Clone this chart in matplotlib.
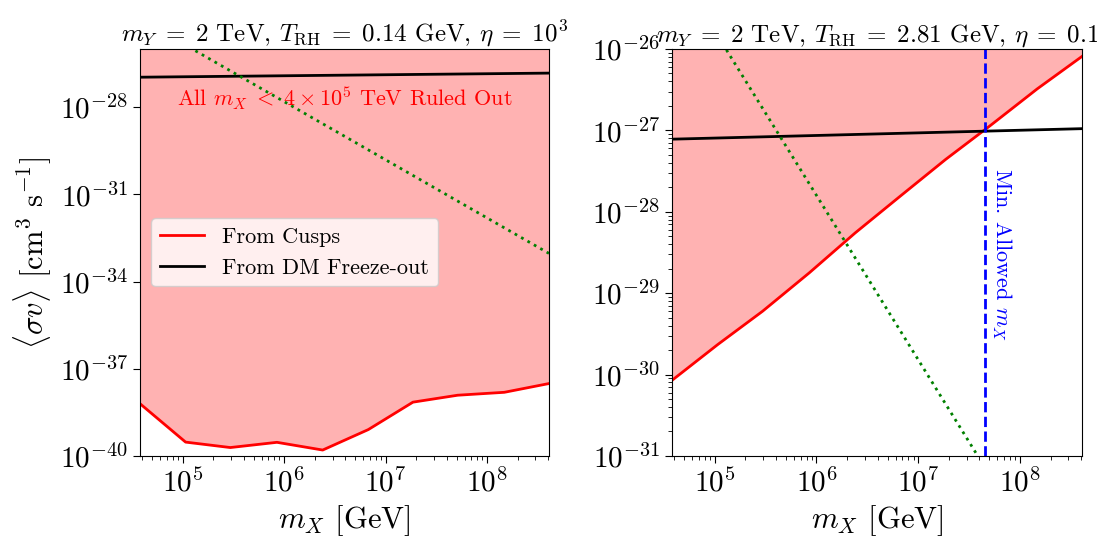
import numpy as np
import matplotlib
matplotlib.use('Agg')
import matplotlib.pyplot as plt
from matplotlib.ticker import LogLocator, NullLocator, NullFormatter

plt.rcParams['font.family'] = 'serif'
plt.rcParams['font.serif'] = ['cmr10']
plt.rcParams['mathtext.fontset'] = 'cm'
plt.rcParams['axes.formatter.use_mathtext'] = True
plt.rcParams['axes.unicode_minus'] = False

# mass grid of the cusp curves [GeV]
mx_grid = [3.8e4, 1.07e5, 2.95e5, 8.5e5, 2.4e6, 6.76e6, 1.86e7, 5.13e7, 1.48e8, 4.07e8]

# left panel: eta = 1e3, T_RH = 0.14 GeV
cusp_left = [6.3e-39, 3.0e-40, 1.95e-40, 2.95e-40, 1.6e-40, 8.1e-40, 7.1e-39, 1.23e-38, 1.55e-38, 3.1e-38]
freeze_x = [3.8e4, 4.07e8]
freeze_left = [1.07e-27, 1.48e-27]
green_left_x = [1.0e5, 4.07e8]
green_left_y = [1.55e-26, 9.3e-34]

# right panel: eta = 0.1, T_RH = 2.81 GeV
cusp_right = [8.5e-31, 2.34e-30, 6.0e-30, 1.78e-29, 5.5e-29, 1.58e-28, 4.4e-28, 1.15e-27, 3.24e-27, 8.1e-27]
freeze_right = [7.8e-28, 1.05e-27]
green_right_x = [1.0e5, 5.0e7]
green_right_y = [1.66e-26, 5.9e-32]
mx_min = 4.5e7

fill_col = (1.0, 0.0, 0.0, 0.3)

fig = plt.figure(figsize=(10.97, 5.36), dpi=100)
ax1 = fig.add_axes([0.1276, 0.1493, 0.3728, 0.7593])
ax2 = fig.add_axes([0.6126, 0.1493, 0.3737, 0.7593])

# ---- left
ax1.set_xscale('log')
ax1.set_yscale('log')
ax1.set_xlim(3.8e4, 4.07e8)
ax1.set_ylim(1e-40, 1e-26)
ax1.fill_between(mx_grid, cusp_left, 1e-26, color=fill_col, lw=0)
ax1.plot(mx_grid, cusp_left, color='red', lw=2, label='From Cusps')
ax1.plot(freeze_x, freeze_left, color='black', lw=2, label='From DM Freeze-out')
ax1.plot(green_left_x, green_left_y, color='green', ls=':', lw=2)
ax1.text(0.5, 0.88, r'All $m_X\;<\;4\times10^5$ TeV Ruled Out', color='red',
         fontsize=16, ha='center', va='center', transform=ax1.transAxes)
ax1.yaxis.set_major_locator(LogLocator(base=10, subs=[1.0], numticks=6))
ax1.yaxis.set_minor_locator(NullLocator())
ax1.legend(loc='center left', fontsize=16, bbox_to_anchor=(0.0, 0.5))
ax1.set_title(r'$m_Y\;=\;2$ TeV, $T_{\rm RH}\;=\;0.14$ GeV, $\eta\;=\;10^3$', fontsize=18, pad=5)
ax1.set_xlabel(r'$m_X$ [GeV]', fontsize=22)
ax1.set_ylabel(r'$\langle \sigma v \rangle$ [cm$^3$ s$^{-1}$]', fontsize=22)

# ---- right
ax2.set_xscale('log')
ax2.set_yscale('log')
ax2.set_xlim(3.8e4, 4.07e8)
ax2.set_ylim(1e-31, 1e-26)
ax2.fill_between(mx_grid, cusp_right, 1e-26, color=fill_col, lw=0)
ax2.plot(mx_grid, cusp_right, color='red', lw=2)
ax2.plot(freeze_x, freeze_right, color='black', lw=2)
ax2.plot(green_right_x, green_right_y, color='green', ls=':', lw=2)
ax2.axvline(mx_min, color='blue', ls='--', lw=2)
ax2.text(mx_min * 1.12, 3e-29, r'Min. Allowed $m_X$', color='blue', fontsize=16,
         rotation=-90, ha='left', va='center')
ax2.set_title(r'$m_Y\;=\;2$ TeV, $T_{\rm RH}\;=\;2.81$ GeV, $\eta\;=\;0.1$', fontsize=18, pad=5)
ax2.set_xlabel(r'$m_X$ [GeV]', fontsize=22)
ax2.yaxis.set_minor_locator(LogLocator(base=10, subs=np.arange(2, 10), numticks=20))
ax2.yaxis.set_minor_formatter(NullFormatter())

for ax in (ax1, ax2):
    ax.xaxis.set_minor_locator(LogLocator(base=10, subs=np.arange(2, 10), numticks=20))
    ax.xaxis.set_minor_formatter(NullFormatter())
    ax.tick_params(axis='both', which='major', labelsize=21, length=5)
    ax.tick_params(axis='both', which='minor', length=3)

fig.savefig('out.png', dpi=100)
